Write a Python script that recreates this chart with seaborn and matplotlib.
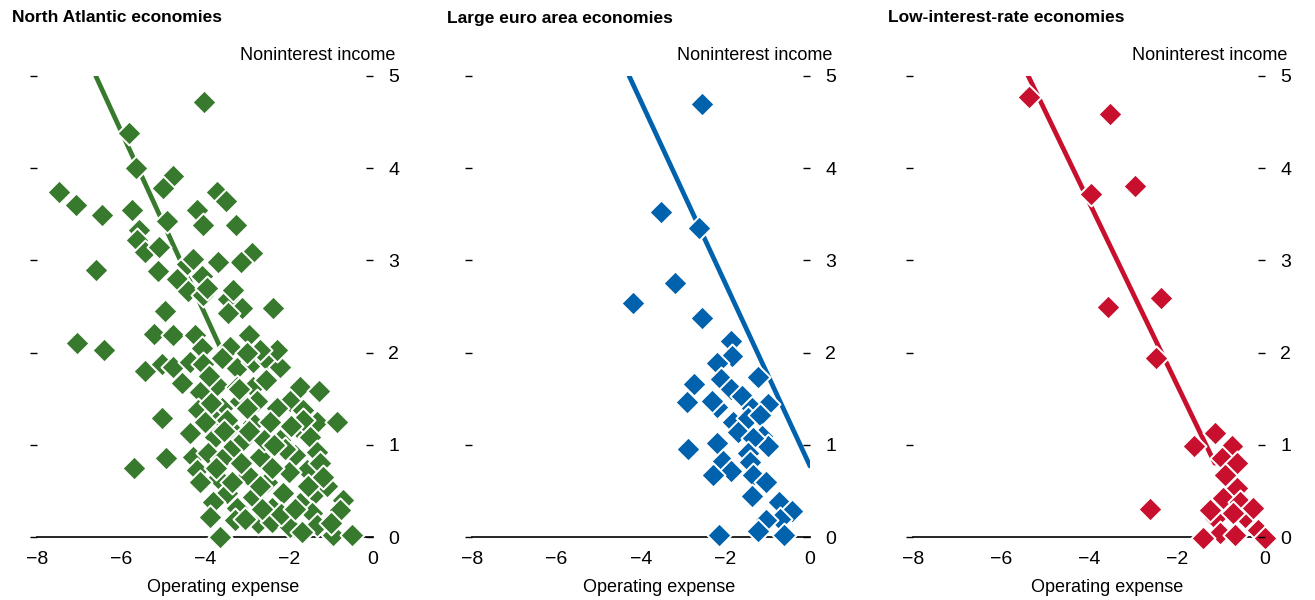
import numpy as np
import pandas as pd
import seaborn as sns
import matplotlib.pyplot as plt

# panel titles and colours
TITLES = ['North Atlantic economies', 'Large euro area economies', 'Low-interest-rate economies']
COLORS = ['#387A2D', '#0062AC', '#C8102E']

# North Atlantic economies: operating expense (x) vs noninterest income (y)
na_x = [-4.02, -5.81, -5.64, -4.76, -5.00, -7.48, -7.07, -6.45, -5.73, -3.71, -3.50, -4.19, -4.90, -4.05,
        -3.26, -5.57, -5.62, -5.43, -5.10, -2.88, -3.14, -3.69, -6.60, -5.12, -4.43, -4.29, -4.07, -4.67,
        -4.40, -4.05, -3.95, -3.45, -3.33, -3.12, -2.38, -4.95, -3.45, -5.21, -4.76, -4.24, -2.95, -7.05,
        -6.40, -4.07, -3.40, -5.43, -5.02, -4.76, -4.36, -4.05, -3.60, -3.24, -2.86, -2.52, -2.21, -2.29,
        -2.69, -3.00, -4.55, -3.71, -3.24, -2.86, -4.12, -1.74, -1.29, -1.98, -4.17, -3.60, -3.17, -2.76,
        -2.29, -1.67, -5.02, -1.33, -0.86, -3.81, -3.40, -2.86, -2.45, -1.81, -4.36, -3.76, -3.10, -2.21,
        -1.50, -4.93, -5.69, -4.29, -3.93, -3.40, -2.69, -1.86, -1.33, -4.19, -3.69, -2.98, -2.52, -1.57,
        -1.26, -4.12, -3.48, -2.86, -2.14, -1.74, -1.38, -0.71, -3.81, -3.24, -2.40, -1.45, -0.79, -3.29,
        -3.88, -2.74, -2.40, -1.98, -1.33, -0.95, -0.50, -3.64, -3.00, -3.48, -1.67, -2.00, -1.10, -2.60,
        -3.05, -1.70, -2.20, -3.60, -2.40, -1.00, -3.20, -2.55, -3.90, -1.95, -2.70, -1.55, -3.85, -2.10,
        -3.55, -2.95, -3.75, -3.15, -2.35, -1.85, -1.20, -2.65, -3.35, -4.00]
na_y = [4.72, 4.38, 4.00, 3.92, 3.78, 3.74, 3.60, 3.49, 3.55, 3.74, 3.64, 3.55, 3.43, 3.38,
        3.38, 3.33, 3.22, 3.09, 3.14, 3.08, 2.98, 2.98, 2.90, 2.89, 2.96, 3.01, 2.83, 2.80,
        2.67, 2.62, 2.70, 2.58, 2.68, 2.48, 2.48, 2.45, 2.43, 2.20, 2.19, 2.19, 2.19, 2.10,
        2.03, 2.05, 2.06, 1.80, 1.88, 1.84, 1.90, 1.88, 1.94, 1.83, 1.90, 1.92, 1.84, 2.03,
        2.03, 2.00, 1.67, 1.65, 1.63, 1.63, 1.57, 1.63, 1.58, 1.48, 1.38, 1.40, 1.48, 1.48,
        1.40, 1.38, 1.29, 1.25, 1.25, 1.29, 1.18, 1.24, 1.25, 1.19, 1.13, 1.08, 1.05, 1.05,
        1.08, 0.86, 0.75, 0.87, 0.91, 0.94, 0.87, 0.89, 0.92, 0.73, 0.64, 0.67, 0.60, 0.73,
        0.80, 0.60, 0.48, 0.43, 0.48, 0.37, 0.48, 0.40, 0.38, 0.31, 0.31, 0.26, 0.29, 0.18,
        0.22, 0.15, 0.16, 0.11, 0.13, 0.02, 0.02, 0.00, 1.40, 1.27, 1.27, 0.70, 0.55, 1.05,
        0.20, 0.05, 0.25, 0.85, 0.75, 0.15, 1.60, 1.70, 1.75, 1.20, 0.55, 0.55, 1.45, 0.95,
        1.15, 1.15, 0.75, 0.80, 1.00, 0.30, 0.65, 0.30, 0.60, 1.25]

# Large euro area economies
eu_x = [-2.56, -3.53, -2.63, -3.20, -4.19, -2.56, -1.87, -1.85, -2.20, -2.75, -2.11, -1.87, -1.23, -1.61,
        -2.91, -2.20, -2.32, -0.99, -1.37, -1.82, -1.47, -1.18, -1.71, -1.14, -0.99, -1.35, -2.20, -2.89,
        -1.47, -2.06, -1.42, -1.87, -2.30, -1.35, -1.04, -1.37, -0.73, -0.43, -0.71, -1.04, -1.23, -2.15,
        -0.62]
eu_y = [4.70, 3.52, 3.35, 2.75, 2.54, 2.37, 2.13, 1.96, 1.89, 1.66, 1.71, 1.61, 1.73, 1.53,
        1.46, 1.41, 1.48, 1.44, 1.40, 1.25, 1.29, 1.32, 1.14, 1.10, 0.99, 1.07, 1.02, 0.95,
        0.91, 0.82, 0.81, 0.72, 0.67, 0.67, 0.60, 0.44, 0.38, 0.28, 0.20, 0.18, 0.07, 0.02,
        0.02]

# Low-interest-rate economies
li_x = [-5.36, -3.52, -2.95, -3.95, -2.36, -3.57, -2.48, -1.14, -1.61, -0.75, -0.98, -0.64, -0.91, -0.64,
        -0.95, -0.57, -2.61, -1.14, -0.45, -0.27, -0.73, -1.02, -0.68, -0.16, -1.41, 0.00, -1.25]
li_y = [4.77, 4.59, 3.81, 3.72, 2.59, 2.49, 1.94, 1.13, 0.99, 0.99, 0.86, 0.80, 0.67, 0.53,
        0.42, 0.38, 0.30, 0.21, 0.22, 0.31, 0.26, 0.04, 0.02, 0.08, -0.01, -0.01, 0.29]

# fitted lines (end points)
fit_x = [[-6.60, -3.64], [-4.28, 0.00], [-5.41, -1.14]]
fit_y = [[5.00, 2.06], [5.00, 0.77], [5.03, 0.80]]

X_TICKS = [-8, -6, -4, -2, 0]
Y_TICKS = [0, 1, 2, 3, 4, 5]

sns.set_style('white')
plt.rcParams['font.family'] = ['Liberation Sans', 'DejaVu Sans']
plt.rcParams['text.color'] = 'black'

fig = plt.figure(figsize=(13.15, 6), dpi=100)
W, H = 1315, 600
# axes boxes in pixels: left (x=-8), right (x=0)
boxes = [(37, 373), (472, 810), (913, 1265)]
top_px, bot_px = 76, 537

data = [(na_x, na_y), (eu_x, eu_y), (li_x, li_y)]

for i, ((l, r), (xs, ys)) in enumerate(zip(boxes, data)):
    ax = fig.add_axes([l / W, 1 - bot_px / H, (r - l) / W, (bot_px - top_px) / H])
    df = pd.DataFrame({'x': xs, 'y': ys})
    line = pd.DataFrame({'x': fit_x[i], 'y': fit_y[i]})
    sns.lineplot(data=line, x='x', y='y', ax=ax, color=COLORS[i], lw=3.4, zorder=2)
    sns.scatterplot(data=df, x='x', y='y', ax=ax, marker='D', s=150, color=COLORS[i],
                    edgecolor='white', linewidth=1.4, zorder=3, clip_on=False)
    ax.set_xlim(-8, 0)
    ax.set_ylim(0, 5)
    ax.set_xticks(X_TICKS)
    ax.set_xticklabels(['\u2212' + str(-t) if t < 0 else str(t) for t in X_TICKS])
    ax.set_yticks(Y_TICKS)
    ax.set_xlabel('')
    ax.set_ylabel('')
    for s in ['top', 'right', 'left']:
        ax.spines[s].set_visible(False)
    ax.spines['bottom'].set_linewidth(1.2)
    ax.spines['bottom'].set_color('black')
    ax.tick_params(axis='x', direction='in', length=5, width=1, pad=10, labelsize=14, colors='black')
    ax.tick_params(axis='y', direction='out', length=5, width=1, left=True, right=False,
                   labelleft=False, colors='black')

    # right-hand ticks and labels
    ax2 = ax.twinx()
    ax2.set_ylim(0, 5)
    ax2.set_yticks(Y_TICKS)
    for s in ['top', 'right', 'left', 'bottom']:
        ax2.spines[s].set_visible(False)
    ax2.tick_params(axis='y', direction='in', length=5, width=1, pad=11, labelsize=14,
                    right=True, labelright=True, colors='black')

    fig.text((l - 25) / W, 1 - 18 / H, TITLES[i], fontsize=12.5, fontweight='bold', va='center', ha='left')
    fig.text((r + 22) / W, 1 - 55 / H, 'Noninterest income', fontsize=13, va='center', ha='right')
    fig.text((l + r) / 2 / W + 18 / W, 1 - 588 / H, 'Operating expense', fontsize=13, va='center', ha='center')

plt.savefig('out.png', dpi=100)
